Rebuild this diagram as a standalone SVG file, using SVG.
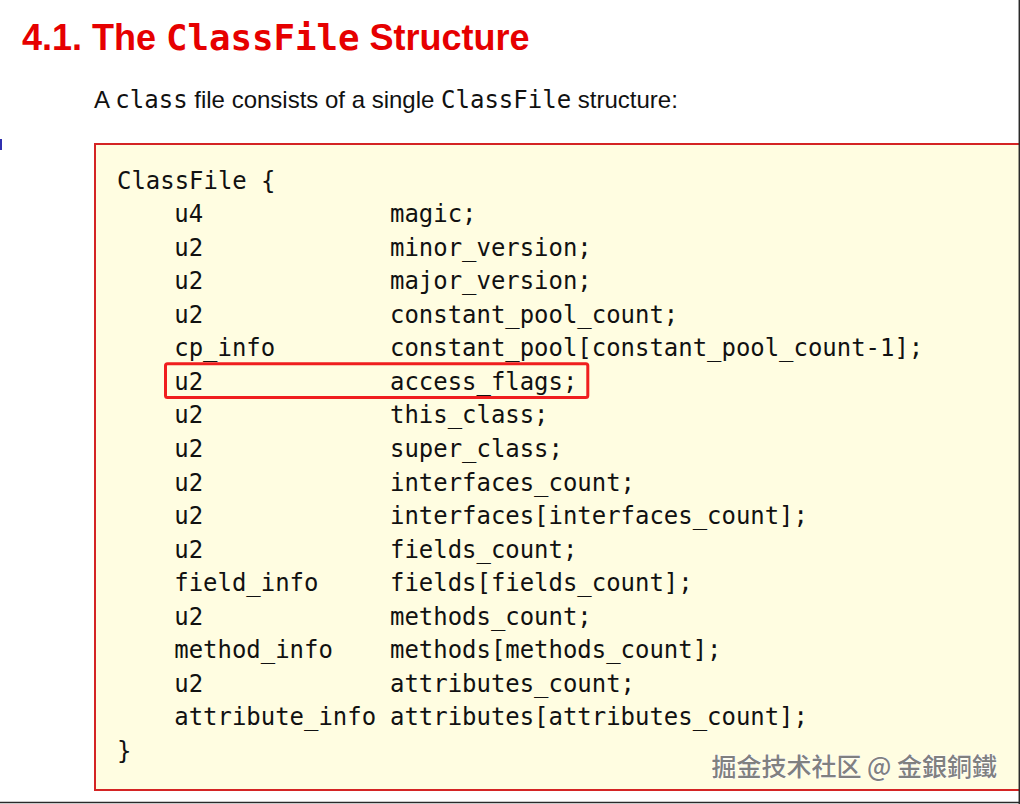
<svg xmlns="http://www.w3.org/2000/svg" width="1020" height="804" viewBox="0 0 1020 804">
  <style>
    .title { font-family: "Liberation Sans", Arial, sans-serif; font-weight: bold; font-size: 36px; fill: #e60000; }
    .tmono { font-family: "DejaVu Sans Mono", monospace; font-weight: bold; font-size: 35.7px; }
    .sub { font-family: "Liberation Sans", Arial, sans-serif; font-size: 24px; fill: #111; }
    .imono { font-family: "DejaVu Sans Mono", monospace; font-size: 24px; }
    .code { font-family: "DejaVu Sans Mono", monospace; font-size: 23.95px; fill: #111; }
    .wm { font-family: "Noto Sans CJK SC", "Noto Sans CJK TC", sans-serif; font-size: 25px; font-weight: 500; fill: #808080; stroke: #ffffff; stroke-width: 1px; paint-order: stroke; }
  </style>
  <rect x="0" y="0" width="1020" height="804" fill="#ffffff"/>
  <g id="title">
    <text class="title" x="22" y="50">4.1. The <tspan class="tmono">ClassFile</tspan> Structure</text>
  </g>
  <g id="subtitle">
    <text class="sub" x="94" y="108">A <tspan class="imono">class</tspan> file consists of a single <tspan class="imono">ClassFile</tspan> structure:</text>
  </g>
  <rect x="0" y="139" width="2" height="11" fill="#3030b0"/>
  <g id="codebox">
    <rect x="95" y="144" width="926" height="646" fill="#fffde1" stroke="#d42424" stroke-width="2"/>
    <g class="code">
      <text x="117" y="188.5">ClassFile {</text>
      <text x="174.3" y="222.1">u4</text><text x="390" y="222.1">magic;</text>
      <text x="174.3" y="255.6">u2</text><text x="390" y="255.6">minor_version;</text>
      <text x="174.3" y="289.2">u2</text><text x="390" y="289.2">major_version;</text>
      <text x="174.3" y="322.7">u2</text><text x="390" y="322.7">constant_pool_count;</text>
      <text x="174.3" y="356.3">cp_info</text><text x="390" y="356.3">constant_pool[constant_pool_count-1];</text>
      <text x="174.3" y="389.8">u2</text><text x="390" y="389.8">access_flags;</text>
      <text x="174.3" y="423.4">u2</text><text x="390" y="423.4">this_class;</text>
      <text x="174.3" y="456.9">u2</text><text x="390" y="456.9">super_class;</text>
      <text x="174.3" y="490.5">u2</text><text x="390" y="490.5">interfaces_count;</text>
      <text x="174.3" y="524.0">u2</text><text x="390" y="524.0">interfaces[interfaces_count];</text>
      <text x="174.3" y="557.6">u2</text><text x="390" y="557.6">fields_count;</text>
      <text x="174.3" y="591.1">field_info</text><text x="390" y="591.1">fields[fields_count];</text>
      <text x="174.3" y="624.7">u2</text><text x="390" y="624.7">methods_count;</text>
      <text x="174.3" y="658.2">method_info</text><text x="390" y="658.2">methods[methods_count];</text>
      <text x="174.3" y="691.8">u2</text><text x="390" y="691.8">attributes_count;</text>
      <text x="174.3" y="725.3">attribute_info</text><text x="390" y="725.3">attributes[attributes_count];</text>
      <text x="117" y="758.9">}</text>
    </g>
  </g>
  <g id="highlight">
    <rect x="165.5" y="363.8" width="422.3" height="33.7" rx="2" fill="none" stroke="#f01e1e" stroke-width="3"/>
  </g>
  <g id="watermark">
    <text class="wm" x="997" y="776" text-anchor="end">掘金技术社区 @ 金銀銅鐵</text>
  </g>
  <line x1="0" y1="802.5" x2="1020" y2="802.5" stroke="#2a2a2a" stroke-width="1.5"/>
  <line x1="1019.3" y1="0" x2="1019.3" y2="804" stroke="#2a2a2a" stroke-width="1.5"/>
</svg>
